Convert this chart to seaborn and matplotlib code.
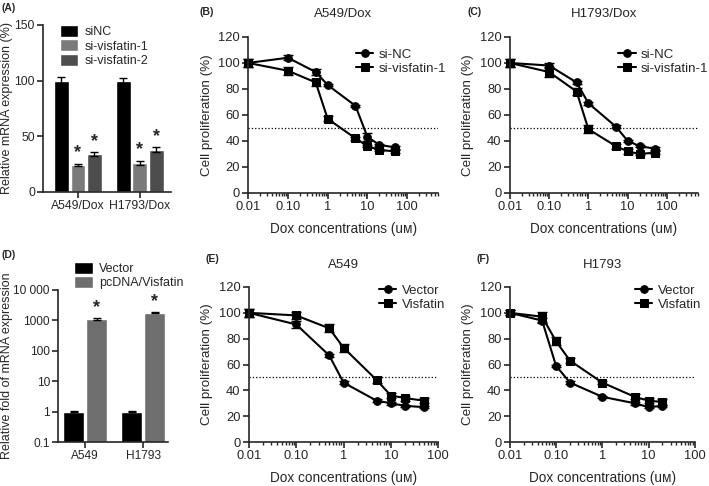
import numpy as np
import pandas as pd
import matplotlib
matplotlib.use("Agg")
import matplotlib.pyplot as plt
import matplotlib.ticker as mticker
import seaborn as sns

sns.set_style("ticks")
plt.rcParams['font.family'] = ['Liberation Sans', 'DejaVu Sans']
plt.rcParams['axes.linewidth'] = 1.2

# (A) knockdown
a_groups = ["A549/Dox", "H1793/Dox"]
a_series = ["siNC", "si-visfatin-1", "si-visfatin-2"]
a_vals = {"siNC": [100, 100], "si-visfatin-1": [24, 26], "si-visfatin-2": [34, 38]}
a_err = {"siNC": [3, 2], "si-visfatin-1": [1, 1.5], "si-visfatin-2": [2, 2]}
a_colors = ["#000000", "#7a7a7a", "#4d4d4d"]

# (D) overexpression
d_groups = ["A549", "H1793"]
d_series = ["Vector", "pcDNA/Visfatin"]
d_vals = {"Vector": [1, 1], "pcDNA/Visfatin": [1100, 1800]}
d_err = {"Vector": [0.03, 0.02], "pcDNA/Visfatin": [80, 100]}
d_colors = ["#000000", "#6e6e6e"]

# dose response curves
conc = [0.01, 0.1, 0.5, 1, 5, 10, 20, 50]
b_nc = [100, 104, 93, 83, 67, 43, 37, 35]
b_si = [100, 94, 85, 57, 42, 36, 33, 32]
b_nc_err = [3, 2, 2, 1, 1, 3, 1, 1]
b_si_err = [3, 3, 3, 2, 1, 1, 1, 1]

c_nc = [100, 98, 85, 69, 51, 40, 36, 34]
c_si = [100, 93, 78, 49, 36, 32, 30, 31]
c_nc_err = [3, 2, 1, 1, 1, 1, 1, 1]
c_si_err = [3, 4, 3, 3, 2, 2, 1, 1]

e_vec = [100, 91, 67, 46, 32, 30, 28, 27]
e_vis = [100, 98, 88, 73, 48, 36, 34, 32]
e_vec_err = [3, 3, 1, 1, 1, 1, 1, 1]
e_vis_err = [3, 3, 3, 3, 2, 2, 2, 2]

conc_f = [0.01, 0.05, 0.1, 0.2, 1, 5, 10, 20]
f_vec = [100, 94, 59, 46, 35, 30, 27, 28]
f_vis = [100, 97, 78, 63, 46, 35, 32, 31]
f_vec_err = [2, 2, 1, 1, 1, 1, 1, 1]
f_vis_err = [2, 4, 3, 2, 1, 2, 2, 2]

fig = plt.figure(figsize=(7.09, 4.86), dpi=100)
FS = 9.3


def style(ax, fs=FS):
    sns.despine(ax=ax)
    ax.tick_params(labelsize=fs, width=1.2, length=4, pad=2)


def bar_panel(ax, groups, series, vals, errs, colors):
    rows = []
    for s in series:
        for g, v in zip(groups, vals[s]):
            rows.append({"group": g, "series": s, "value": v})
    df = pd.DataFrame(rows)
    sns.barplot(data=df, x="group", y="value", hue="series", palette=colors,
                errorbar=None, gap=0.1, ax=ax, saturation=1)
    # error bars on bar centres
    bars = [p for p in ax.patches if p.get_height() > 0][:len(series) * len(groups)]
    i = 0
    for s in series:
        for j in range(len(groups)):
            p = bars[i]
            cx = p.get_x() + p.get_width() / 2
            ax.errorbar(cx, p.get_height(), yerr=errs[s][j], fmt="none",
                        ecolor="black", capsize=3, lw=1)
            i += 1
    return bars


# ---------- (A)
axA = fig.add_axes([0.061, 0.605, 0.180, 0.344])
bars = bar_panel(axA, a_groups, a_series, a_vals, a_err, a_colors)
axA.set_ylim(0, 150)
axA.set_yticks([0, 50, 100, 150])
axA.set_xlim(-0.56, 1.5)
axA.set_xlabel("")
axA.set_ylabel("Relative mRNA expression (%)", fontsize=9, labelpad=1)
for p in bars:
    if p.get_facecolor()[0] > 0.1:
        axA.text(p.get_x() + p.get_width() / 2, p.get_height() + 4, "*",
                 ha="center", va="bottom", fontsize=13, fontweight="bold")
axA.legend(loc="upper left", bbox_to_anchor=(0.09, 1.03), frameon=False,
           fontsize=9, handlelength=1.5, handleheight=1.1, labelspacing=0.1,
           handletextpad=0.5, borderaxespad=0)
style(axA, 8.8)

# ---------- (D)
axD = fig.add_axes([0.082, 0.0905, 0.155, 0.313])
axD.set_yscale("log")
bars = bar_panel(axD, d_groups, d_series, d_vals, d_err, d_colors)
axD.set_ylim(0.1, 10000)
axD.set_yticks([0.1, 1, 10, 100, 1000, 10000])
axD.set_yticklabels(["0.1", "1", "10", "100", "1000", "10 000"])
axD.yaxis.set_minor_locator(mticker.NullLocator())
axD.set_xlim(-0.47, 1.43)
axD.set_xlabel("")
axD.set_ylabel("Relative fold of mRNA expression", fontsize=9, labelpad=0)
for p in bars:
    if p.get_height() > 10:
        axD.text(p.get_x() + p.get_width() / 2, p.get_height() * 1.25, "*",
                 ha="center", va="bottom", fontsize=13, fontweight="bold")
axD.legend(loc="lower left", bbox_to_anchor=(0.1, 0.97), frameon=False,
           fontsize=9, handlelength=1.5, handleheight=1.1, labelspacing=0.1,
           handletextpad=0.5, borderaxespad=0)
style(axD, 8.6)


# ---------- dose response panels
def curve_panel(rect, x, y1, e1, y2, e2, labels, title, xmax, leg_anchor):
    ax = fig.add_axes(rect)
    for y, e, m, ms, lab in [(y1, e1, "o", 5.5, labels[0]), (y2, e2, "s", 5.5, labels[1])]:
        sns.lineplot(x=x, y=y, marker=m, markersize=ms, color="black", lw=1.5,
                     markeredgecolor="black", label=lab, ax=ax, clip_on=False)
        ax.errorbar(x, y, yerr=e, fmt="none", ecolor="black", capsize=3.5, lw=1,
                    clip_on=False)
    ax.axhline(50, ls=":", color="black", lw=0.9)
    ax.set_xscale("log")
    ax.set_xlim(0.01, xmax)
    ax.set_ylim(0, 120)
    ax.set_yticks(range(0, 121, 20))
    ax.set_xticks([0.01, 0.1, 1, 10, 100])
    ax.set_xticklabels(["0.01", "0.10", "1", "10", "100"])
    ax.xaxis.set_minor_locator(mticker.LogLocator(base=10, subs=np.arange(2, 10)))
    ax.xaxis.set_minor_formatter(mticker.NullFormatter())
    ax.tick_params(axis="x", which="minor", length=2.5, width=1)
    ax.set_xlabel("Dox concentrations (uᴍ)", fontsize=9.8, labelpad=6)
    ax.set_ylabel("Cell proliferation (%)", fontsize=9.6)
    ax.set_title(title, fontsize=9.5, pad=14)
    ax.legend(loc="upper left", bbox_to_anchor=leg_anchor, frameon=False,
              fontsize=9.5, handlelength=1.3, labelspacing=0.15,
              handletextpad=0.4, borderaxespad=0)
    style(ax)
    return ax


curve_panel([0.350, 0.603, 0.268, 0.321], conc, b_nc, b_nc_err, b_si, b_si_err,
            ["si-NC", "si-visfatin-1"], "A549/Dox", 600, (0.54, 0.96))
curve_panel([0.719, 0.603, 0.265, 0.321], conc, c_nc, c_nc_err, c_si, c_si_err,
            ["si-NC", "si-visfatin-1"], "H1793/Dox", 600, (0.55, 0.96))
curve_panel([0.351, 0.0905, 0.267, 0.319], conc, e_vec, e_vec_err, e_vis, e_vis_err,
            ["Vector", "Visfatin"], "A549", 100, (0.66, 1.05))
curve_panel([0.719, 0.0905, 0.261, 0.319], conc_f, f_vec, f_vec_err, f_vis, f_vis_err,
            ["Vector", "Visfatin"], "H1793", 100, (0.65, 1.05))

# panel labels
for lab, x, y in [("(A)", 2, 8), ("(B)", 200, 12), ("(C)", 467, 12),
                  ("(D)", 2, 255), ("(E)", 206, 259), ("(F)", 477, 259)]:
    fig.text(x / 709, 1 - y / 486, lab, fontsize=7.5, fontweight="bold",
             ha="left", va="center")

fig.savefig("out.png", dpi=100)
